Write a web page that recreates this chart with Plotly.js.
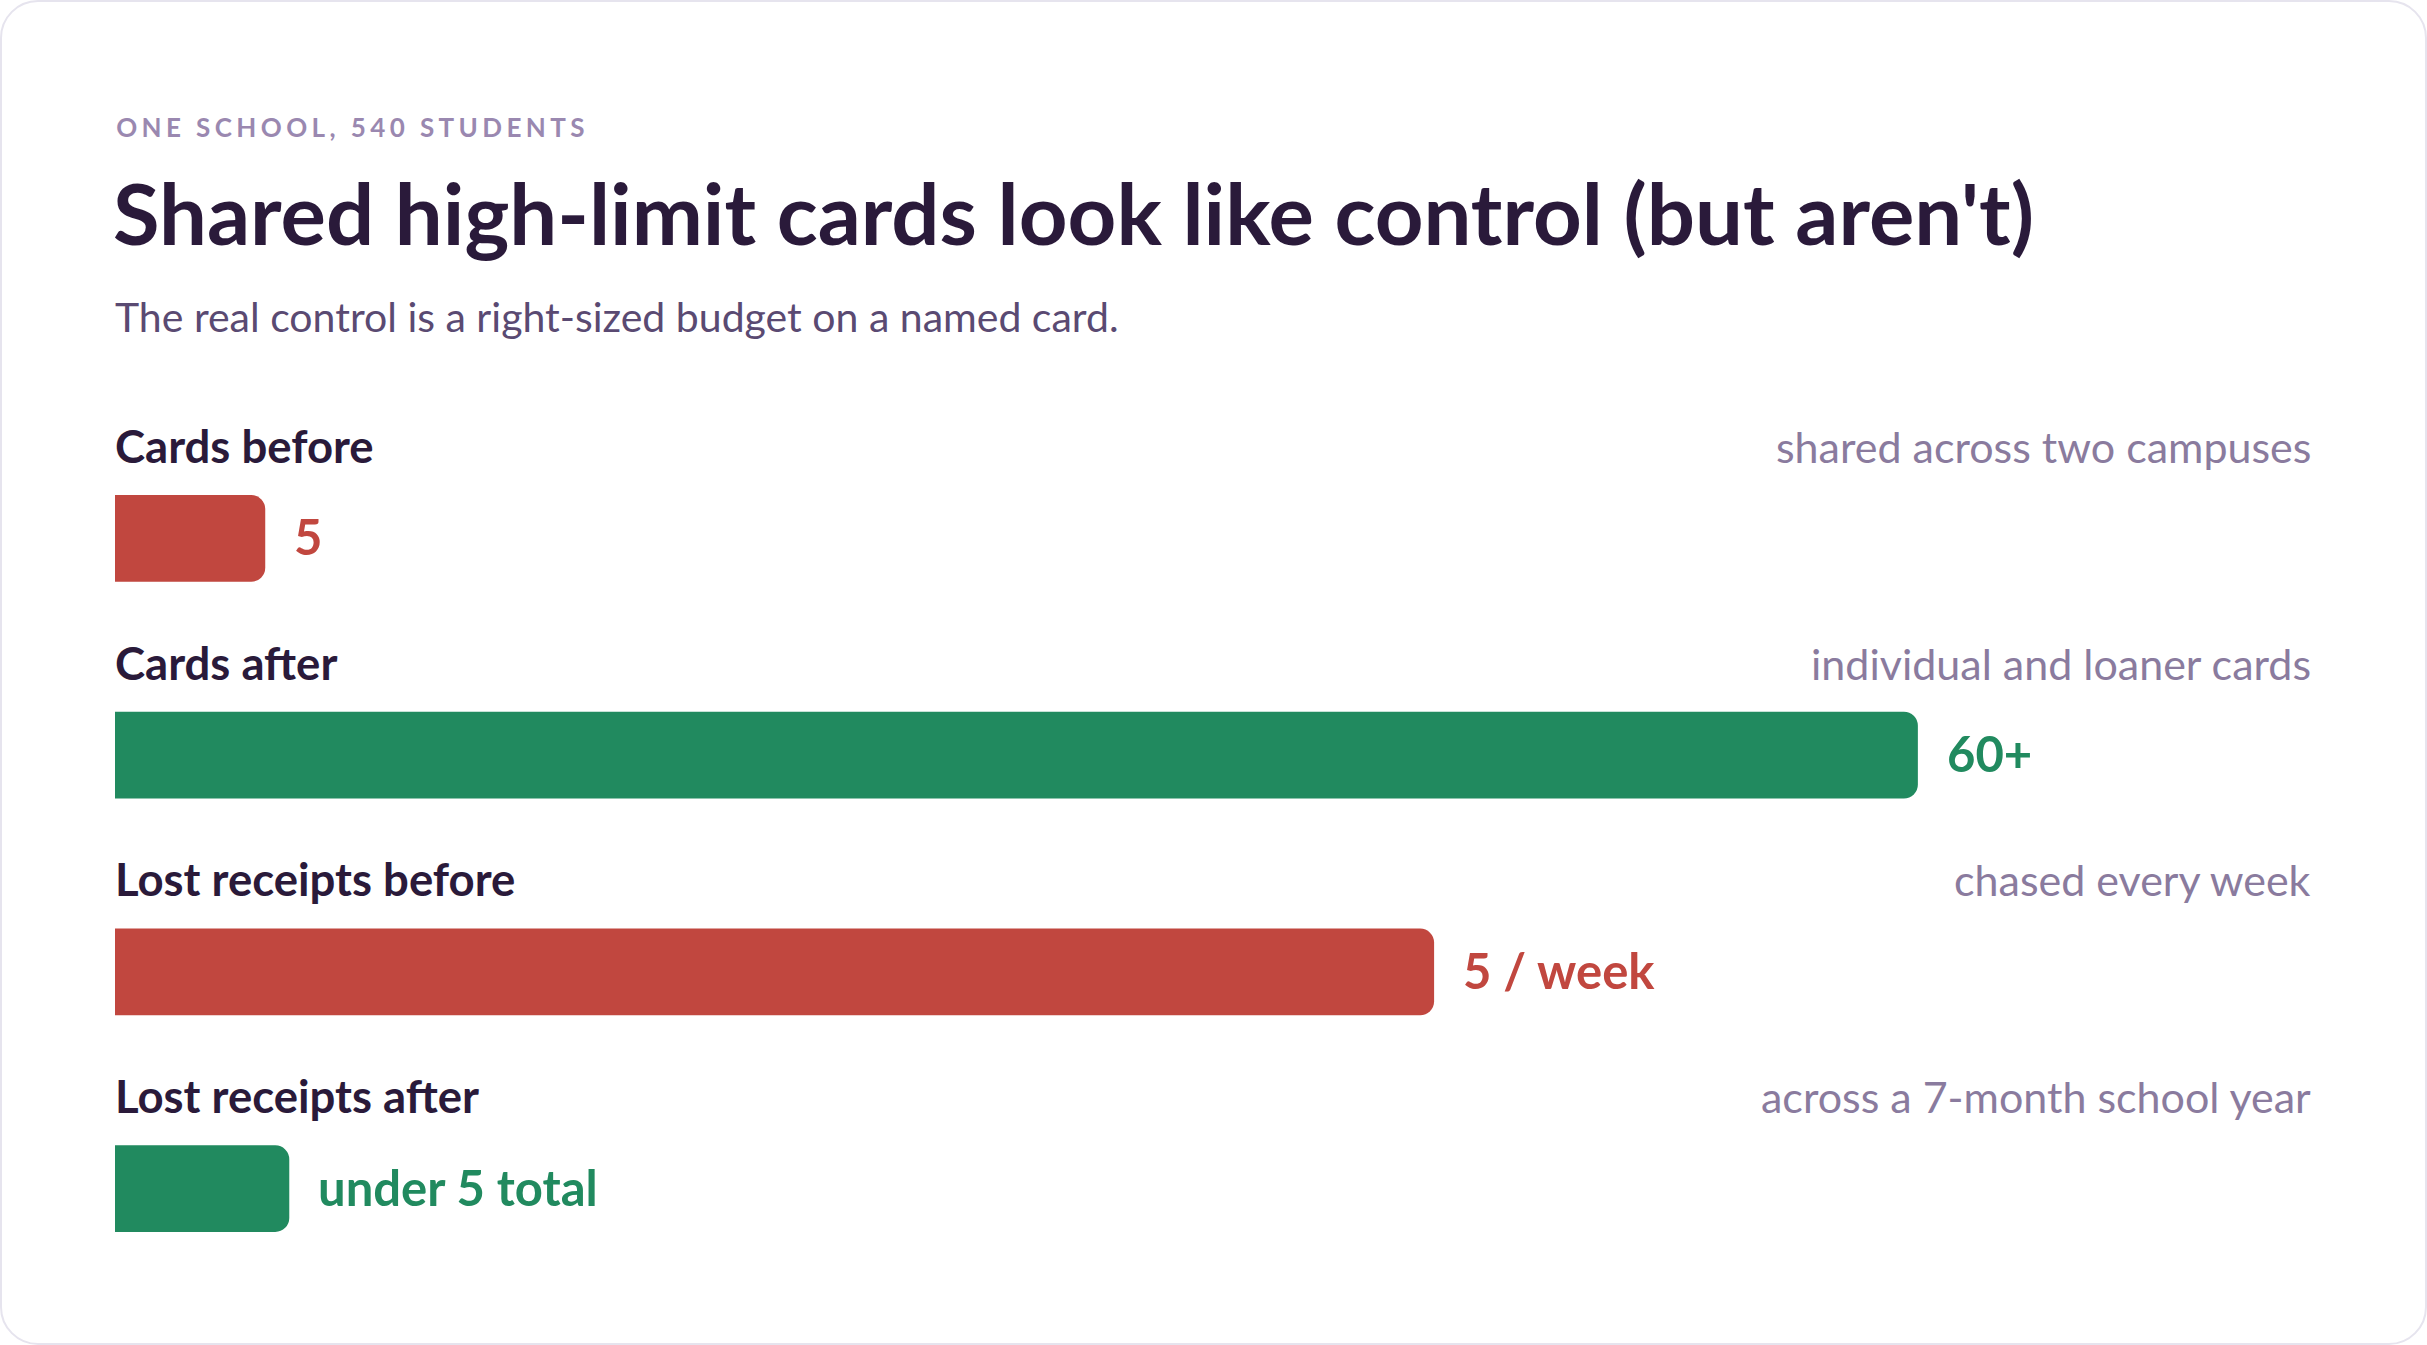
<!DOCTYPE html>
<html>
<head>
<meta charset="utf-8">
<script src="https://cdn.plot.ly/plotly-3.0.1.min.js"></script>
<style>
  html, body { margin: 0; padding: 0; background: #ffffff; }
  #wrap { position: relative; width: 2427px; height: 1345px; }
  #chart { position: absolute; left: 0; top: 0; width: 2427px; height: 1345px; }
  #frame {
    position: absolute; left: 0; top: 0; width: 2427px; height: 1345px;
    box-sizing: border-box; border: 2px solid #e6e4ee; border-radius: 38px;
    pointer-events: none;
  }
  .annotation[data-index="0"] text { letter-spacing: 4.4px; }
</style>
</head>
<body>
<div id="wrap">
  <div id="chart"></div>
  <div id="frame"></div>
</div>
<script>
// Rows, top to bottom
var rowLabels = ['Cards before', 'Cards after', 'Lost receipts before', 'Lost receipts after'];
var barValues = [5, 60, 43.9, 5.8];
var valueLabels = ['5', '60+', '5 / week', 'under 5 total'];
var rowNotes = ['shared across two campuses', 'individual and loaner cards',
                'chased every week', 'across a 7-month school year'];
var rowPhase = ['before', 'after', 'before', 'after'];

var eyebrow = 'ONE SCHOOL, 540 STUDENTS';
var title = "Shared high-limit cards look like control (but aren't)";
var subtitle = 'The real control is a right-sized budget on a named card.';

var W = 2427, H = 1345;
var M = { l: 115, r: 117, t: 430, b: 48 };
var plotW = W - M.l - M.r, plotH = H - M.t - M.b;
var FONT = 'Lato, "Noto Sans", sans-serif';
var RED = '#c1473f', GREEN = '#218a5f';
var SPACING = 4.4; // letter spacing of the eyebrow, see css

function xp(px) { return (px - M.l) / plotW; }
function yp(py) { return (H - M.b - py) / plotH; }

var rowIdx = rowLabels.map(function (d, i) { return i; });
var colors = rowPhase.map(function (p) { return p === 'before' ? RED : GREEN; });

var trace = {
    type: 'bar', orientation: 'h',
    x: barValues, y: rowIdx,
    width: 0.4,
    marker: { color: colors, cornerradius: 14, line: { width: 0 } },
    hoverinfo: 'skip'
};

var annotations = [
    // css letter-spacing grows the text both ways from its centre, so push it right by half
    { text: eyebrow, x: xp(114), y: yp(127), xshift: eyebrow.length * SPACING / 2,
      font: { family: FONT, size: 26, color: '#9a88b0', weight: 700 } },
    { text: title, x: xp(111), y: yp(212),
      font: { family: FONT, size: 85, color: '#2a1a3a', weight: 700 } },
    { text: subtitle, x: xp(113), y: yp(316),
      font: { family: FONT, size: 41, color: '#5a4a72' } }
].map(function (a) {
    a.xref = 'paper'; a.yref = 'paper'; a.xanchor = 'left'; a.yanchor = 'middle'; a.showarrow = false;
    return a;
});

rowIdx.forEach(function (i) {
    annotations.push({
        text: rowLabels[i], xref: 'paper', x: 0, yref: 'y', y: i, yshift: 93, xshift: -2,
        xanchor: 'left', yanchor: 'middle', showarrow: false,
        font: { family: FONT, size: 45.5, color: '#2a1a3a', weight: 700 }
    });
    annotations.push({
        text: rowNotes[i], xref: 'paper', x: 1, yref: 'y', y: i, yshift: 92, xshift: 3,
        xanchor: 'right', yanchor: 'middle', showarrow: false,
        font: { family: FONT, size: 43, color: '#8a7b9e' }
    });
    annotations.push({
        text: valueLabels[i], xref: 'x', x: barValues[i], yref: 'y', y: i, xshift: 27, yshift: 2,
        xanchor: 'left', yanchor: 'middle', showarrow: false,
        font: { family: FONT, size: 49, color: colors[i], weight: 700 }
    });
});

var layout = {
    width: W, height: H,
    margin: M,
    paper_bgcolor: 'rgba(0,0,0,0)', plot_bgcolor: 'rgba(0,0,0,0)',
    showlegend: false,
    xaxis: { range: [0, 73.05], visible: false, fixedrange: true },
    yaxis: { range: [3.5, -0.5], visible: false, fixedrange: true },
    annotations: annotations
};

Plotly.newPlot('chart', [trace], layout, { displayModeBar: false, staticPlot: true });
</script>
</body>
</html>
